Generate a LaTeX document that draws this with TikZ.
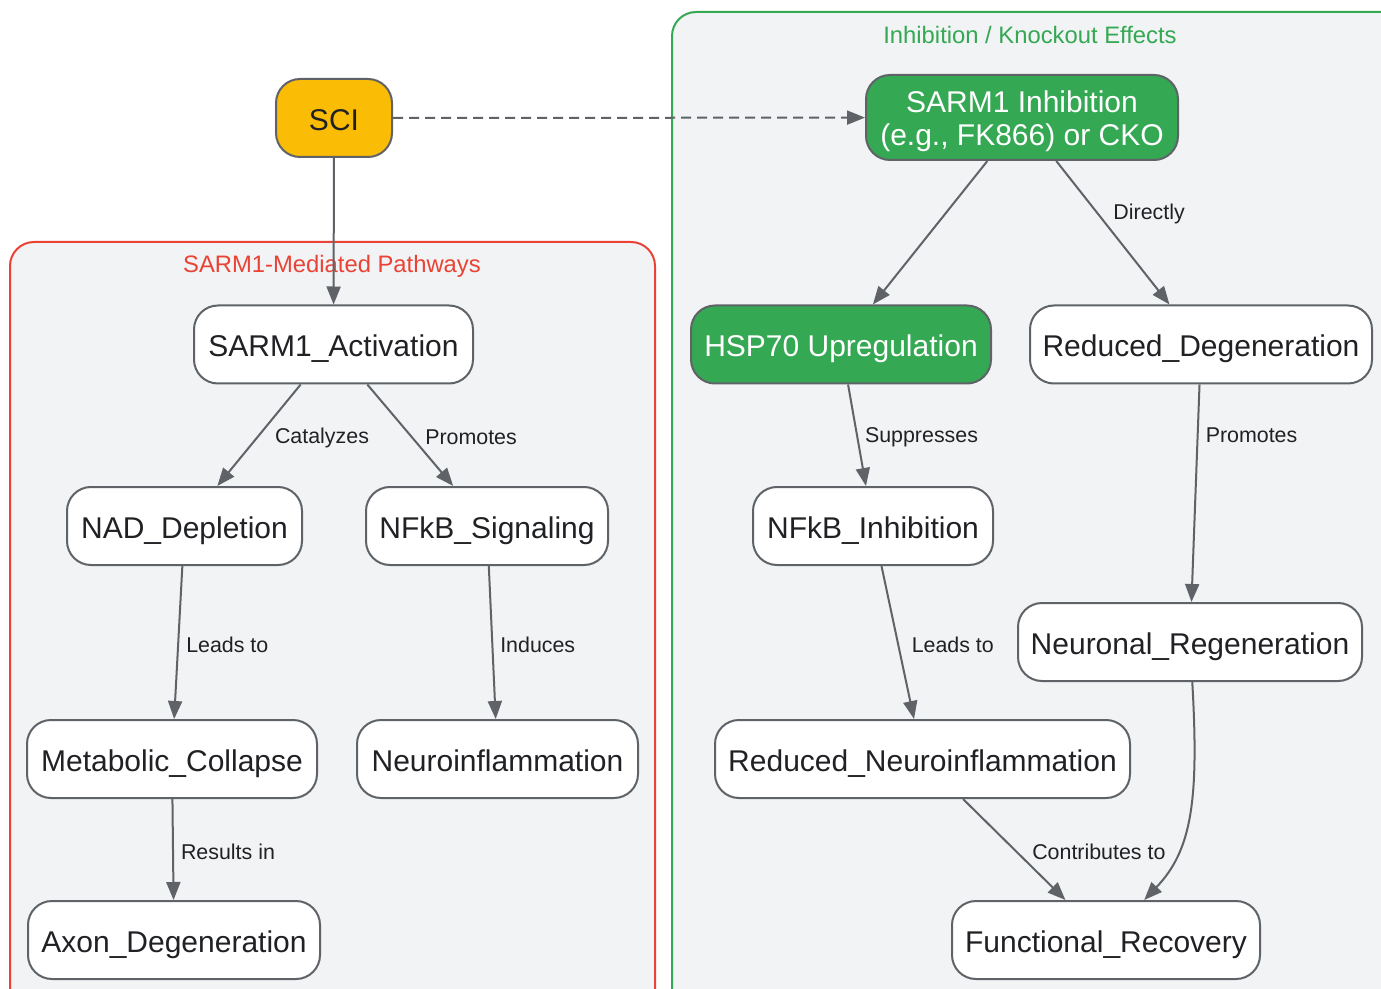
\documentclass[tikz,border=0pt]{standalone}
\usepackage{fontspec}
\setmainfont{Liberation Sans}
\usepackage{tikz}
\usepackage{xcolor}
\usetikzlibrary{positioning, arrows.meta}

\definecolor{edgegray}{HTML}{5F6368}
\definecolor{sciyellow}{HTML}{FBBC05}
\definecolor{inhgreen}{HTML}{34A853}
\definecolor{pathred}{HTML}{EA4335}
\definecolor{clusterbg}{HTML}{F1F3F4}
\definecolor{textdark}{HTML}{202124}

\begin{document}
\begin{tikzpicture}[x=0.5pt, y=-0.5pt,
        box/.style={rectangle, rounded corners=12pt, draw=edgegray, line width=1pt, fill=white,
            minimum height=39pt, inner sep=0pt, text height=12.5pt, text depth=0pt,
            text=textdark, font=\fontsize{15}{16.5}\selectfont},
        greenbox/.style={box, fill=inhgreen, text=white},
        flow/.style={draw=edgegray, line width=1pt, -{Triangle[length=9pt, width=7pt]}},
        lbl/.style={anchor=west, inner sep=0pt, xshift=3.5pt, yshift=-1.2pt, text=textdark, font=\fontsize{10.7}{12}\selectfont},
        cluster/.style={rounded corners=12pt, fill=clusterbg, line width=1pt},
        ctitle/.style={font=\fontsize{11.9}{14}\selectfont}]
                \clip (0,0) rectangle (1381,989);

                % groups
                \draw[cluster, draw=pathred] (10,242) rectangle (655,1040);
                \draw[cluster, draw=inhgreen] (672,12) rectangle (1420,1040);
                \node[ctitle, text=pathred] (pathtitle) at (332,266) {SARM1-Mediated Pathways};
                \node[ctitle, text=inhgreen] (inhtitle) at (1030,35) {Inhibition / Knockout Effects};

                \node[box, fill=sciyellow, minimum width=58pt] (sci) at (334,118) {SCI};
                \node[greenbox, minimum width=156pt, minimum height=42.5pt, text height=28.5pt, align=center] (inh) at (1022,117.5) {SARM1 Inhibition\\(e.g., FK866) or CKO};

                \node[box, minimum width=139.5pt] (act) at (333.5,344.5) {SARM1\_Activation};
                \node[box, minimum width=117.5pt] (nad) at (184.5,526) {NAD\_Depletion};
                \node[box, minimum width=121pt] (nfkb) at (487,526) {NFkB\_Signaling};
                \node[box, minimum width=145pt] (meta) at (172,759) {Metabolic\_Collapse};
                \node[box, minimum width=140.5pt] (ninf) at (497.5,759) {Neuroinflammation};
                \node[box, minimum width=146pt] (axon) at (174,940) {Axon\_Degeneration};

                \node[greenbox, minimum width=150pt] (hsp) at (841,344.5) {HSP70 Upregulation};
                \node[box, minimum width=171pt] (rdeg) at (1201,344.5) {Reduced\_Degeneration};
                \node[box, minimum width=120pt] (ninh) at (873,526) {NFkB\_Inhibition};
                \node[box, minimum width=172pt] (nreg) at (1190,642) {Neuronal\_Regeneration};
                \node[box, minimum width=207.5pt] (rinf) at (922.5,759) {Reduced\_Neuroinflammation};
                \node[box, minimum width=154pt] (frec) at (1106,940) {Functional\_Recovery};

                \draw[flow] (sci) -- (act);
                \draw[flow, dash pattern=on 5pt off 3pt] (sci) -- (inh);

                \draw[flow] (act) -- node[lbl, xshift=4pt] {Catalyzes} (nad);
                \draw[flow] (act) -- node[lbl, xshift=3.5pt] {Promotes} (nfkb);
                \draw[flow] (nad) -- node[lbl] {Leads to} (meta);
                \draw[flow] (nfkb) -- node[lbl] {Induces} (ninf);
                \draw[flow] (meta) -- node[lbl] {Results in} (axon);

                \draw[flow] (inh) -- (hsp);
                \draw[flow] (inh) -- node[lbl, pos=0.355, xshift=4.5pt] {Directly} (rdeg);
                \draw[flow] (hsp) -- node[lbl] {Suppresses} (ninh);
                \draw[flow] (rdeg) -- node[lbl, pos=0.22] {Promotes} (nreg);
                \draw[flow] (ninh) -- node[lbl, xshift=3pt] {Leads to} (rinf);
                \draw[flow] (rinf) -- node[lbl, xshift=5pt] {Contributes to} (frec);
                \draw[flow] (nreg) .. controls (1199,800) and (1192,850) .. (frec);
            \end{tikzpicture}
\end{document}
